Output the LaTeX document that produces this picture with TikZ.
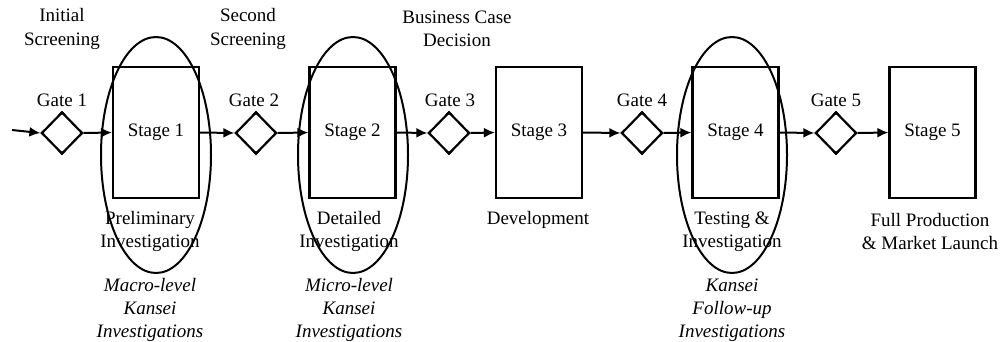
\documentclass[tikz,border=0pt]{standalone}
\usepackage{fontspec}
\setmainfont{Liberation Serif}
\usetikzlibrary{shapes.geometric,arrows.meta,calc}
\begin{document}
\begin{tikzpicture}[x=1pt,y=-1pt,
  lbl/.style={font=\fontsize{19}{23.5}\selectfont,align=center,inner sep=0pt},
  ital/.style={lbl,font=\fontsize{19}{23}\selectfont\itshape},
  gate/.style={draw,line width=2.2pt,diamond,aspect=1,inner sep=0pt,
    minimum width=41pt,minimum height=42pt},
  stagebox/.style={draw,line width=2.2pt,rectangle,inner sep=0pt,
    minimum width=86pt,minimum height=131pt,font=\fontsize{19}{23}\selectfont},
  kansei/.style={draw,line width=2pt,ellipse,inner sep=0pt,
    minimum width=110pt,minimum height=236pt},
  flow/.style={line width=2pt,-{Latex[length=11pt,width=10pt]}},
  gatelbl/.style={lbl,anchor=base}]
\useasboundingbox (0,0) rectangle (1002,341);

% gates
\node[gate] (g1) at (62,133) {};
\node[gate] (g2) at (256,133) {};
\node[gate] (g3) at (449,133) {};
\node[gate] (g4) at (642,133) {};
\node[gate] (g5) at (836,133) {};
\node[gatelbl] (g1l) at (62,106) {Gate 1};
\node[gatelbl] (g2l) at (254,106) {Gate 2};
\node[gatelbl] (g3l) at (450,106) {Gate 3};
\node[gatelbl] (g4l) at (642,106) {Gate 4};
\node[gatelbl] (g5l) at (836,106) {Gate 5};

% small filled corner marks of the gates
\foreach \g in {g1,g2,g3,g4,g5} {
  \foreach \v/\a/\b in {north/west/east, south/west/east, west/north/south, east/north/south}
    \fill (\g.\v) -- ($(\g.\v)!0.17!(\g.\a)$) -- ($(\g.\v)!0.17!(\g.\b)$) -- cycle;
}

% stages
\node[stagebox] (s1) at (156,132.5) {Stage 1};
\node[stagebox] (s2) at (352.5,132.5) {Stage 2};
\node[stagebox] (s3) at (539,132.5) {Stage 3};
\node[stagebox] (s4) at (735.5,132.5) {Stage 4};
\node[stagebox] (s5) at (932.5,132.5) {Stage 5};

% Kansei investigation ellipses
\node[kansei] (e1) at (156,155) {};
\node[kansei] (e2) at (353,155) {};
\node[kansei] (e4) at (732,155) {};

% flow
\coordinate (in) at (12,130);
\draw[flow] (in) -- (g1.west);
\draw[flow] (g1.east) -- (s1.west);
\draw[flow] (s1.east) -- (g2.west);
\draw[flow] (g2.east) -- (s2.west);
\draw[flow] (s2.east) -- (g3.west);
\draw[flow] (g3.east) -- (s3.west);
\draw[flow] (s3.east) -- (g4.west);
\draw[flow] (g4.east) -- (s4.west);
\draw[flow] (s4.east) -- (g5.west);
\draw[flow] (g5.east) -- (s5.west);

% gate decisions
\node[lbl] (t1) at (62,29) {Initial\\Screening};
\node[lbl] (t2) at (248,29) {Second\\Screening};
\node[lbl] (t3) at (457,29) {Business Case\\Decision};

% stage activities
\node[lbl] (a1) at (150,231.5) {Preliminary\\Investigation};
\node[lbl] (a2) at (349,231.5) {Detailed\\Investigation};
\node[lbl] (a3) at (538,220) {Development};
\node[lbl] (a4) at (732,231.5) {Testing \&\\Investigation};
\node[lbl] (a5) at (930,231.5) {Full Production\\\& Market Launch};

% Kansei activities
\node[ital] (k1) at (150,310) {Macro-level\\Kansei\\Investigations};
\node[ital] (k2) at (349,310) {Micro-level\\Kansei\\Investigations};
\node[ital] (k4) at (732,310) {Kansei\\Follow-up\\Investigations};
\end{tikzpicture}
\end{document}
